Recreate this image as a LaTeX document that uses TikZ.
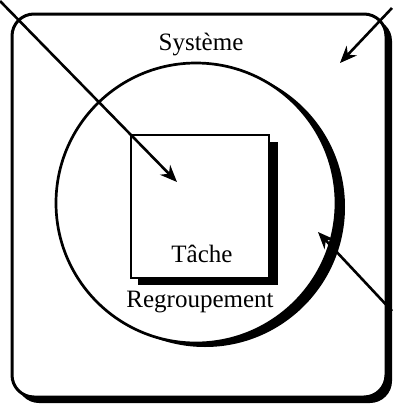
\documentclass[tikz,border=0pt]{standalone}
\usepackage{fontspec}
\setmainfont{Liberation Serif}
\usetikzlibrary{arrows.meta}
\begin{document}
\begin{tikzpicture}[x=1pt,y=-1pt,
  outline/.style={draw=black,line width=3pt,fill=white},
  shadowfill/.style={fill=black,draw=none},
  lbl/.style={font=\fontsize{25}{30}\selectfont,anchor=base,inner sep=0pt},
  pointer/.style={draw=black,line width=2.6pt,-{Stealth[length=17pt,width=14pt]}}]
\useasboundingbox (0,0) rectangle (392,405);
% outer system box
\fill[black,rounded corners=22pt] (17,19) rectangle (392,403);
\draw[outline,rounded corners=22pt] (12,14) rectangle (386,397);
% grouping circle
\fill[black] (205,207) circle[radius=140];
\draw[outline,line width=2.7pt] (196,203) circle[radius=140];
% task square
\fill[black] (138,142) rectangle (278,285);
\draw[outline,line width=2.7pt] (131,135) rectangle (269,278);
% labels
\node[lbl] (sys) at (201,50) {Système};
\node[lbl] (tache) at (202,262) {Tâche};
\node[lbl] (reg) at (200,307) {Regroupement};
% arrows
\coordinate (a1s) at (0,1);
\coordinate (a1e) at (177,182);
\coordinate (a2s) at (392,8);
\coordinate (a2e) at (340,63);
\coordinate (a3s) at (392,311);
\coordinate (a3e) at (318,232);
\draw[pointer] (a1s) -- (a1e);
\draw[pointer] (a2s) -- (a2e);
\draw[pointer] (a3s) -- (a3e);
\end{tikzpicture}
\end{document}
